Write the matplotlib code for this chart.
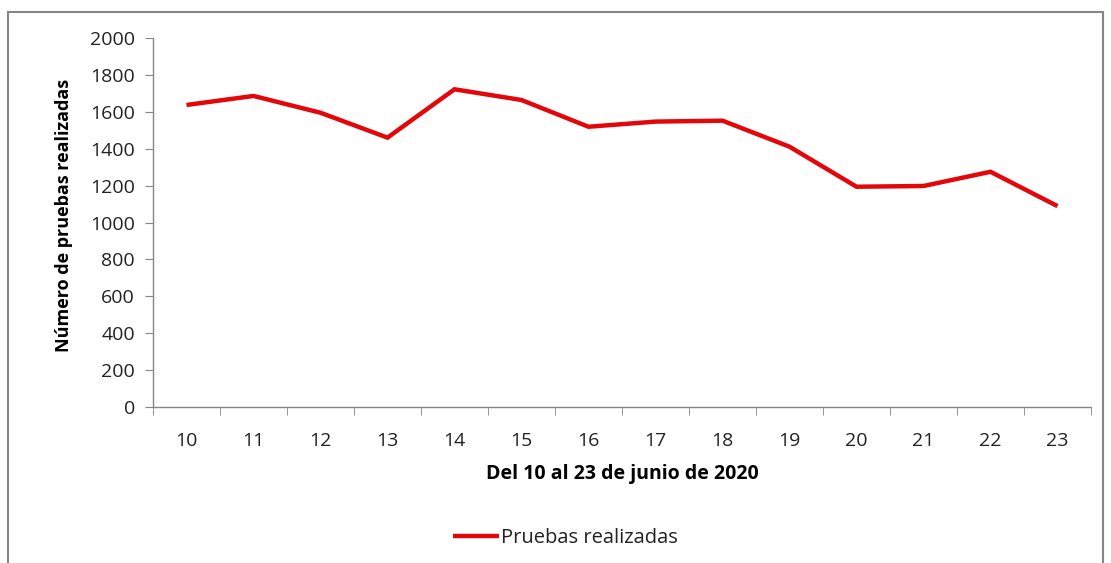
import numpy as np
import matplotlib.pyplot as plt
from matplotlib.patches import Rectangle

# Datos: pruebas realizadas del 10 al 23 de junio de 2020
dias = [10, 11, 12, 13, 14, 15, 16, 17, 18, 19, 20, 21, 22, 23]
pruebas = [1637, 1686, 1595, 1460, 1722, 1664, 1519, 1547, 1552, 1411, 1194, 1198, 1275, 1089]

plt.rcParams['font.family'] = ['Open Sans', 'DejaVu Sans']

fig = plt.figure(figsize=(11.11, 5.63), dpi=100)
ax = fig.add_axes([0.1377, 0.277, 0.8443, 0.6555])

x = np.arange(len(dias))
ax.plot(x, pruebas, color='#e3070b', linewidth=3.2, label='Pruebas realizadas',
        solid_joinstyle='miter', solid_capstyle='butt')

ax.set_xlim(-0.5, len(dias) - 0.5)
ax.set_ylim(0, 2000)
ax.set_yticks(range(0, 2001, 200))
ax.set_xticks(x)
ax.set_xticklabels([str(d) for d in dias])
ax.set_xticks(np.arange(-0.5, len(dias), 1), minor=True)

grey = '#868686'
for s in ['top', 'right']:
    ax.spines[s].set_visible(False)
for s in ['left', 'bottom']:
    ax.spines[s].set_color(grey)
    ax.spines[s].set_linewidth(1)

ax.tick_params(axis='y', direction='out', length=6, color=grey, labelsize=14, pad=7,
               labelcolor='#222222')
ax.tick_params(axis='x', which='major', length=0, labelsize=14, pad=18, labelcolor='#222222')
ax.tick_params(axis='x', which='minor', direction='out', length=6, color=grey)

ax.set_ylabel('Número de pruebas realizadas', fontsize=13, fontweight='bold')
ax.yaxis.set_label_coords(-0.085, 0.52)
ax.set_xlabel('Del 10 al 23 de junio de 2020', fontsize=14, fontweight='bold', labelpad=10)

leg = ax.legend(loc='center', frameon=False, fontsize=14.5, handlelength=2.3,
                handletextpad=0.1)
leg.set_bbox_to_anchor((0.509, 1 - 538 / 563), transform=fig.transFigure)
for t in leg.get_texts():
    t.set_color('#222222')

# borde exterior del gráfico
fig.patches.append(Rectangle((8 / 1111, -0.01), 1095 / 1111, 1 - 12 / 563 + 0.01,
                             transform=fig.transFigure, fill=False,
                             edgecolor=grey, linewidth=1.5))

fig.savefig('out.png', dpi=100)
